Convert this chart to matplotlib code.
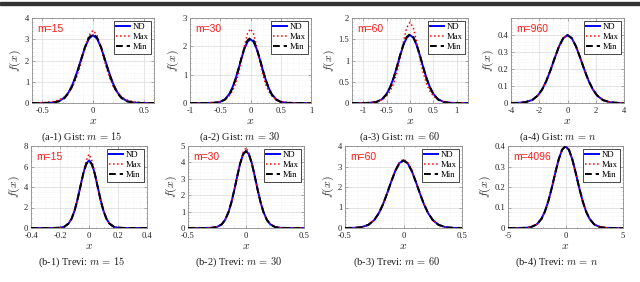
import matplotlib
matplotlib.use('Agg')
import matplotlib.pyplot as plt
from matplotlib.ticker import AutoMinorLocator, FuncFormatter
from matplotlib.patches import Rectangle

plt.rcParams['font.family'] = ['Liberation Serif', 'DejaVu Serif']
plt.rcParams['mathtext.fontset'] = 'cm'
plt.rcParams['axes.unicode_minus'] = False

# ---------------- data ----------------
a1_x = [-0.6, -0.48, -0.4, -0.33, -0.28, -0.24, -0.2, -0.16, -0.12, -0.08, -0.04, 0, 0.04, 0.08, 0.12, 0.16, 0.2, 0.24, 0.28, 0.33, 0.4, 0.48, 0.6]
a1_nd = [0, 0.002, 0.019, 0.098, 0.26, 0.504, 0.887, 1.41, 2.01, 2.6, 3.03, 3.19, 3.03, 2.6, 2.01, 1.41, 0.887, 0.504, 0.26, 0.098, 0.019, 0.002, 0]
a1_max = [0.004, 0.019, 0.057, 0.147, 0.285, 0.48, 0.78, 1.24, 1.86, 2.57, 3.18, 3.42, 3.18, 2.57, 1.86, 1.24, 0.78, 0.48, 0.285, 0.147, 0.057, 0.019, 0.004]
a1_min = [0, 0.001, 0.014, 0.08, 0.23, 0.46, 0.84, 1.36, 1.98, 2.62, 3.08, 3.25, 3.08, 2.62, 1.98, 1.36, 0.84, 0.46, 0.23, 0.08, 0.014, 0.001, 0]

a2_x = [-1, -0.75, -0.6, -0.5, -0.42, -0.35, -0.3, -0.25, -0.2, -0.15, -0.1, -0.05, 0, 0.05, 0.1, 0.15, 0.2, 0.25, 0.3, 0.35, 0.42, 0.5, 0.6, 0.75, 1]
a2_nd = [0, 0.0003, 0.007, 0.042, 0.136, 0.321, 0.538, 0.833, 1.19, 1.573, 1.919, 2.162, 2.25, 2.162, 1.919, 1.573, 1.19, 0.833, 0.538, 0.321, 0.136, 0.042, 0.007, 0.0003, 0]
a2_max = [0.0003, 0.004, 0.0195, 0.055, 0.125, 0.254, 0.415, 0.662, 1.022, 1.492, 2.015, 2.449, 2.62, 2.449, 2.015, 1.492, 1.022, 0.662, 0.415, 0.254, 0.125, 0.055, 0.0195, 0.004, 0.0003]
a2_min = [0, 0, 0.005, 0.036, 0.12, 0.3, 0.52, 0.82, 1.19, 1.59, 1.95, 2.21, 2.3, 2.21, 1.95, 1.59, 1.19, 0.82, 0.52, 0.3, 0.12, 0.036, 0.005, 0, 0]

a3_x = [-1.25, -1, -0.86, -0.72, -0.6, -0.5, -0.42, -0.35, -0.28, -0.21, -0.14, -0.07, 0, 0.07, 0.14, 0.21, 0.28, 0.35, 0.42, 0.5, 0.6, 0.72, 0.86, 1, 1.25]
a3_nd = [0, 0.0005, 0.004, 0.025, 0.088, 0.214, 0.387, 0.597, 0.851, 1.123, 1.366, 1.538, 1.6, 1.538, 1.366, 1.123, 0.851, 0.597, 0.387, 0.214, 0.088, 0.025, 0.004, 0.0005, 0]
a3_max = [0.0006, 0.0038, 0.011, 0.032, 0.078, 0.163, 0.288, 0.464, 0.723, 1.065, 1.449, 1.771, 1.9, 1.771, 1.449, 1.065, 0.723, 0.464, 0.288, 0.163, 0.078, 0.032, 0.011, 0.0038, 0.0006]
a3_min = [0, 0, 0.003, 0.022, 0.082, 0.205, 0.38, 0.59, 0.85, 1.13, 1.38, 1.555, 1.62, 1.555, 1.38, 1.13, 0.85, 0.59, 0.38, 0.205, 0.082, 0.022, 0.003, 0, 0]

a4_x = [-4, -3.5, -3, -2.5, -2.1, -1.8, -1.5, -1.2, -0.9, -0.6, -0.3, 0, 0.3, 0.6, 0.9, 1.2, 1.5, 1.8, 2.1, 2.5, 3, 3.5, 4]
a4_nd = [0.0001, 0.0009, 0.0044, 0.0175, 0.044, 0.079, 0.1295, 0.1942, 0.2661, 0.3332, 0.3814, 0.3989, 0.3814, 0.3332, 0.2661, 0.1942, 0.1295, 0.079, 0.044, 0.0175, 0.0044, 0.0009, 0.0001]
a4_max = [0.0001, 0.001, 0.0046, 0.0178, 0.0442, 0.079, 0.129, 0.1935, 0.2655, 0.3335, 0.3825, 0.4005, 0.3825, 0.3335, 0.2655, 0.1935, 0.129, 0.079, 0.0442, 0.0178, 0.0046, 0.001, 0.0001]
a4_min = [0.0001, 0.0009, 0.0044, 0.0175, 0.044, 0.0789, 0.1293, 0.194, 0.2659, 0.3333, 0.3818, 0.3995, 0.3818, 0.3333, 0.2659, 0.194, 0.1293, 0.0789, 0.044, 0.0175, 0.0044, 0.0009, 0.0001]

b1_x = [-0.4, -0.3, -0.25, -0.2, -0.17, -0.14, -0.12, -0.1, -0.08, -0.06, -0.04, -0.02, 0, 0.02, 0.04, 0.06, 0.08, 0.1, 0.12, 0.14, 0.17, 0.2, 0.25, 0.3, 0.4]
b1_nd = [0, 0, 0.001, 0.028, 0.125, 0.449, 0.917, 1.676, 2.74, 4.03, 5.3, 6.25, 6.6, 6.25, 5.3, 4.03, 2.74, 1.676, 0.917, 0.449, 0.125, 0.028, 0.001, 0, 0]
b1_max = [0, 0, 0.003, 0.035, 0.14, 0.47, 0.93, 1.66, 2.68, 3.95, 5.35, 6.55, 7.2, 6.55, 5.35, 3.95, 2.68, 1.66, 0.93, 0.47, 0.14, 0.035, 0.003, 0, 0]
b1_min = [0, 0, 0.001, 0.027, 0.123, 0.445, 0.91, 1.67, 2.73, 4.0, 5.26, 6.2, 6.55, 6.2, 5.26, 4.0, 2.73, 1.67, 0.91, 0.445, 0.123, 0.027, 0.001, 0, 0]

b2_x = [-0.5, -0.38, -0.3, -0.25, -0.21, -0.18, -0.15, -0.125, -0.1, -0.075, -0.05, -0.025, 0, 0.025, 0.05, 0.075, 0.1, 0.125, 0.15, 0.18, 0.21, 0.25, 0.3, 0.38, 0.5]
b2_nd = [0, 0.0002, 0.009, 0.062, 0.221, 0.497, 0.987, 1.591, 2.35, 3.18, 3.95, 4.5, 4.7, 4.5, 3.95, 3.18, 2.35, 1.591, 0.987, 0.497, 0.221, 0.062, 0.009, 0.0002, 0]
b2_max = [0, 0.001, 0.012, 0.068, 0.23, 0.5, 0.98, 1.57, 2.32, 3.15, 3.98, 4.62, 4.9, 4.62, 3.98, 3.15, 2.32, 1.57, 0.98, 0.5, 0.23, 0.068, 0.012, 0.001, 0]
b2_min = [0, 0, 0.009, 0.06, 0.218, 0.49, 0.98, 1.585, 2.34, 3.17, 3.94, 4.49, 4.68, 4.49, 3.94, 3.17, 2.34, 1.585, 0.98, 0.49, 0.218, 0.06, 0.009, 0, 0]

b3_x = [-0.5, -0.42, -0.36, -0.3, -0.25, -0.21, -0.175, -0.14, -0.105, -0.07, -0.035, 0, 0.035, 0.07, 0.105, 0.14, 0.175, 0.21, 0.25, 0.3, 0.36, 0.42, 0.5]
b3_nd = [0.0007, 0.008, 0.039, 0.152, 0.389, 0.73, 1.158, 1.688, 2.263, 2.79, 3.165, 3.3, 3.165, 2.79, 2.263, 1.688, 1.158, 0.73, 0.389, 0.152, 0.039, 0.008, 0.0007]
b3_max = [0.001, 0.009, 0.042, 0.155, 0.39, 0.725, 1.15, 1.68, 2.26, 2.81, 3.21, 3.36, 3.21, 2.81, 2.26, 1.68, 1.15, 0.725, 0.39, 0.155, 0.042, 0.009, 0.001]
b3_min = [0.001, 0.008, 0.04, 0.152, 0.39, 0.73, 1.16, 1.69, 2.26, 2.79, 3.16, 3.29, 3.16, 2.79, 2.26, 1.69, 1.16, 0.73, 0.39, 0.152, 0.04, 0.008, 0.001]

b4_x = [-5, -4, -3.5, -3, -2.5, -2.1, -1.8, -1.5, -1.2, -0.9, -0.6, -0.3, 0, 0.3, 0.6, 0.9, 1.2, 1.5, 1.8, 2.1, 2.5, 3, 3.5, 4, 5]
b4_nd = [0, 0.0001, 0.0009, 0.0044, 0.0175, 0.044, 0.079, 0.1295, 0.1942, 0.2661, 0.3332, 0.3814, 0.3989, 0.3814, 0.3332, 0.2661, 0.1942, 0.1295, 0.079, 0.044, 0.0175, 0.0044, 0.0009, 0.0001, 0]
b4_max = [0, 0.0001, 0.001, 0.0045, 0.0177, 0.0441, 0.079, 0.1292, 0.1938, 0.2658, 0.3334, 0.382, 0.3995, 0.382, 0.3334, 0.2658, 0.1938, 0.1292, 0.079, 0.0441, 0.0177, 0.0045, 0.001, 0.0001, 0]
b4_min = [0, 0.0001, 0.0009, 0.0044, 0.0175, 0.044, 0.0789, 0.1294, 0.1941, 0.266, 0.3333, 0.3816, 0.3992, 0.3816, 0.3333, 0.266, 0.1941, 0.1294, 0.0789, 0.044, 0.0175, 0.0044, 0.0009, 0.0001, 0]

series_labels = ['ND', 'Max', 'Min']
m_labels = ['m=15', 'm=30', 'm=60', 'm=960', 'm=15', 'm=30', 'm=60', 'm=4096']
captions = [r'(a-1) Gist: $m\,=\,15$', r'(a-2) Gist: $m\,=\,30$', r'(a-3) Gist: $m\,=\,60$', r'(a-4) Gist: $m\,=\,n$',
            r'(b-1) Trevi: $m\,=\,15$', r'(b-2) Trevi: $m\,=\,30$', r'(b-3) Trevi: $m\,=\,60$', r'(b-4) Trevi: $m\,=\,n$']
xticks_list = [[-0.5, 0, 0.5], [-1, -0.5, 0, 0.5, 1], [-1, -0.5, 0, 0.5, 1], [-4, -2, 0, 2, 4],
               [-0.4, -0.2, 0, 0.2, 0.4], [-0.5, 0, 0.5], [-0.5, 0, 0.5], [-5, 0, 5]]
yticks_list = [[0, 1, 2, 3, 4], [0, 1, 2, 3], [0, 0.5, 1, 1.5, 2], [0, 0.1, 0.2, 0.3, 0.4],
               [0, 2, 4, 6, 8], [0, 1, 2, 3, 4, 5], [0, 1, 2, 3, 4], [0, 0.1, 0.2, 0.3, 0.4]]
xlims = [(-0.6, 0.6), (-1, 1), (-1.24, 1.24), (-4, 4), (-0.4, 0.4), (-0.5, 0.5), (-0.5, 0.5), (-5, 5)]
ylims = [(0, 4), (0, 3), (0, 2), (0, 0.5), (0, 8), (0, 5), (0, 4), (0, 0.4)]

panels = [(a1_x, a1_nd, a1_max, a1_min), (a2_x, a2_nd, a2_max, a2_min),
          (a3_x, a3_nd, a3_max, a3_min), (a4_x, a4_nd, a4_max, a4_min),
          (b1_x, b1_nd, b1_max, b1_min), (b2_x, b2_nd, b2_max, b2_min),
          (b3_x, b3_nd, b3_max, b3_min), (b4_x, b4_nd, b4_max, b4_min)]

# ---------------- layout ----------------
W, H = 640, 282
fig = plt.figure(figsize=(W / 100, H / 100), dpi=100)

def rect(l, r, t, b):
    return [l / W, (H - b) / H, (r - l) / W, (b - t) / H]

boxes = [(32, 154, 18, 103), (190, 311, 18, 103), (352, 468, 18, 103), (511, 624, 18, 103),
         (31, 147, 146, 228), (188, 304, 146, 228), (345, 462, 146, 228), (508, 623, 146, 228)]
cap_x = [82, 240, 400, 558, 82, 239, 397, 557]
cap_y = [137, 137, 137, 137, 262, 262, 262, 262]

fmt = FuncFormatter(lambda v, p: f'{v:g}')

for i, (xs, nd, mx, mn) in enumerate(panels):
    ax = fig.add_axes(rect(*boxes[i]))
    ax.plot(xs, nd, color='#0000ff', lw=1.4, label=series_labels[0], zorder=3)
    ax.plot(xs, mx, color='#ff0000', lw=1.1, ls=':', label=series_labels[1], zorder=4)
    ax.plot(xs, mn, color='black', lw=1.4, ls=(0, (3.5, 2)), label=series_labels[2], zorder=5)
    ax.set_xlim(*xlims[i])
    ax.set_ylim(*ylims[i])
    ax.set_xticks(xticks_list[i])
    ax.set_yticks(yticks_list[i])
    ax.xaxis.set_major_formatter(fmt)
    ax.yaxis.set_major_formatter(fmt)
    ax.xaxis.set_minor_locator(AutoMinorLocator())
    ax.yaxis.set_minor_locator(AutoMinorLocator())
    ax.grid(which='major', color='#d9d9d9', lw=0.5, ls='-')
    ax.grid(which='minor', color='#ececec', lw=0.4, ls=':')
    ax.set_axisbelow(True)
    for s in ax.spines.values():
        s.set_color('#8c8c8c')
        s.set_linewidth(0.6)
    ax.tick_params(which='both', direction='in', top=True, right=True, colors='#8c8c8c',
                   labelcolor='#262626', labelsize=6.2)
    ax.tick_params(axis='x', pad=3)
    ax.tick_params(axis='y', pad=2)
    ax.tick_params(which='major', length=2, width=0.5)
    ax.tick_params(which='minor', length=1, width=0.4)
    ax.set_xlabel(r'$x$', fontsize=8.5, labelpad=0, color='#262626')
    ax.set_ylabel(r'$f(x)$', fontsize=8.5, labelpad=1, color='#262626')
    ax.text(0.045, 0.87, m_labels[i], transform=ax.transAxes, color='#ff1a1a',
            fontsize=7.5, family='Liberation Sans', ha='left', va='center', zorder=6)
    leg = ax.legend(loc='upper right', fontsize=6.3, handlelength=1.6, handletextpad=0.3,
                    borderpad=0.3, labelspacing=0.2, borderaxespad=0.3, fancybox=False,
                    framealpha=1, edgecolor='black')
    leg.get_frame().set_linewidth(0.5)
    fig.text(cap_x[i] / W, (H - cap_y[i]) / H, captions[i], fontsize=7.5,
             ha='center', va='center', color='#1a1a1a')

# dark rule at the top of the page crop
fig.patches.append(Rectangle((0, (H - 5) / H), 1, 3 / H, transform=fig.transFigure,
                             color='#333333', zorder=10))

fig.savefig('out.png', dpi=100)
